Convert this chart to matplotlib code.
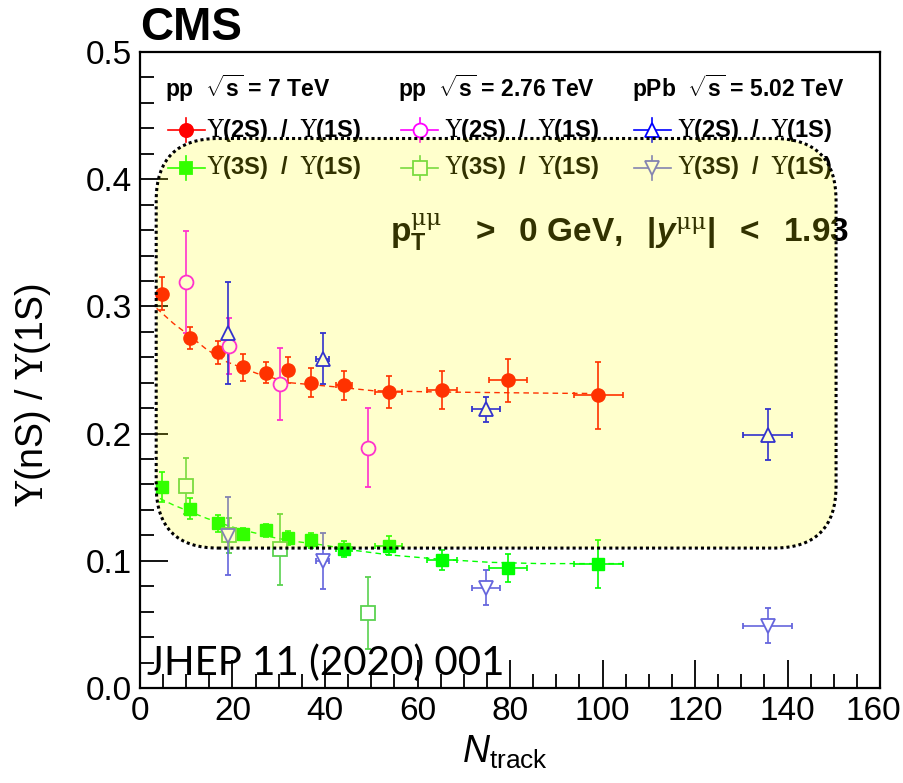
import matplotlib
matplotlib.use('Agg')
import matplotlib.pyplot as plt
from matplotlib.patches import FancyBboxPatch
from matplotlib.ticker import MultipleLocator
from matplotlib.transforms import ScaledTranslation

plt.rcParams['font.family'] = ['Liberation Sans', 'DejaVu Sans']
plt.rcParams['mathtext.fontset'] = 'custom'
plt.rcParams['mathtext.rm'] = 'DejaVu Serif'
plt.rcParams['mathtext.bf'] = 'Liberation Sans:bold'
plt.rcParams['mathtext.it'] = 'Liberation Sans:italic'
plt.rcParams['mathtext.sf'] = 'Liberation Sans'
plt.rcParams['mathtext.bfit'] = 'Liberation Sans:bold:italic'

# pp 7 TeV, filled markers
trk_x = [4.7, 10.8, 16.9, 22.3, 27.2, 32.1, 37.0, 44.1, 53.8, 65.3, 79.6, 99.1]
trk_xerr = [0.8, 0.8, 0.8, 0.8, 0.8, 0.8, 1.2, 1.8, 2.9, 3.3, 4.1, 5.3]
pp7_2s = [0.310, 0.275, 0.264, 0.252, 0.248, 0.250, 0.240, 0.238, 0.233, 0.234, 0.242, 0.230]
pp7_2s_err = [0.013, 0.0085, 0.009, 0.0105, 0.0085, 0.010, 0.0115, 0.0115, 0.0125, 0.015, 0.017, 0.026]
pp7_3s = [0.158, 0.141, 0.1295, 0.121, 0.124, 0.118, 0.116, 0.109, 0.112, 0.1006, 0.094, 0.0977]
pp7_3s_err = [0.0115, 0.008, 0.0065, 0.005, 0.005, 0.0054, 0.006, 0.0064, 0.0073, 0.0077, 0.011, 0.019]

# fitted curves
fit2_x = [3.6, 7.2, 10.8, 14.4, 18.7, 25.2, 32.4, 41.8, 50.4, 64.9, 90.8, 100]
fit2_y = [0.2985, 0.2867, 0.2767, 0.2662, 0.2565, 0.2474, 0.2400, 0.2369, 0.2337, 0.2327, 0.2317, 0.2315]
fit3_x = [4.3, 7.2, 10.8, 14.4, 18.0, 21.6, 25.2, 28.8, 32.4, 39.6, 46.8, 54.0, 64.9, 75.7, 86.5, 104.5]
fit3_y = [0.149, 0.1439, 0.1386, 0.1334, 0.1289, 0.1247, 0.1216, 0.1184, 0.1158, 0.1124, 0.1080,
          0.1046, 0.1012, 0.0988, 0.0978, 0.0978]

# pp 2.76 TeV
pp2_x = [9.9, 19.3, 30.3, 49.2]
pp2_2s = [0.319, 0.269, 0.239, 0.189]
pp2_2s_err = [0.040, 0.022, 0.0285, 0.031]
pp2_3s = [0.159, 0.120, 0.109, 0.059]
pp2_3s_err = [0.022, 0.014, 0.028, 0.028]

# pPb 5.02 TeV
ppb_x = [19.0, 39.5, 74.8, 135.7]
ppb_xerr = [0.5, 1.4, 3.0, 5.3]
ppb_2s = [0.279, 0.259, 0.219, 0.199]
ppb_2s_err = [0.040, 0.020, 0.010, 0.020]
ppb_3s = [0.1195, 0.100, 0.079, 0.049]
ppb_3s_err = [0.031, 0.022, 0.0138, 0.014]

x_ticks = [0, 20, 40, 60, 80, 100, 120, 140, 160]
headers = [r'pp  $\sqrt{\mathbf{s}}$ = 7 TeV', r'pp  $\sqrt{\mathbf{s}}$ = 2.76 TeV',
           r'pPb  $\sqrt{\mathbf{s}}$ = 5.02 TeV']
label_2s = r'$\Upsilon\mathbf{(2S)\ \ /\ \ }\Upsilon\mathbf{(1S)}$'
label_3s = r'$\Upsilon\mathbf{(3S)\ \ /\ \ }\Upsilon\mathbf{(1S)}$'
kin_text = (r'$\mathbf{p}_{\mathbf{T}}^{\mathrm{\mu\mu}}\mathbf{\ \ \ >\ \ 0\ GeV,\ \ |}'
            r'\mathbfit{y}^{\mathrm{\mu\mu}}\mathbf{|\ \ <\ \ 1.93}$')

fig = plt.figure(figsize=(9.04, 7.83), dpi=100)
ax = fig.add_axes([140 / 904, 95 / 783, 740 / 904, 636 / 783])
ax.set_xlim(0, 160)
ax.set_ylim(0, 0.5)

eb = dict(capsize=2.5, elinewidth=1.2, capthick=1.2, linestyle='none', zorder=5)

ax.plot(fit2_x, fit2_y, color='#ff0000', lw=1, ls=(0, (4, 3)), zorder=4)
ax.plot(fit3_x, fit3_y, color='#00ff00', lw=1, ls=(0, (4, 3)), zorder=4)

ax.errorbar(trk_x, pp7_2s, yerr=pp7_2s_err, xerr=trk_xerr, fmt='o', ms=9.5,
            color='#ff0000', **eb)
ax.errorbar(trk_x, pp7_3s, yerr=pp7_3s_err, xerr=trk_xerr, fmt='s', ms=8.5,
            color='#00ff00', **eb)
ax.errorbar(pp2_x, pp2_2s, yerr=pp2_2s_err, fmt='o', ms=10, mfc='white', mew=1.3,
            color='#ff00ff', **eb)
ax.errorbar(pp2_x, pp2_3s, yerr=pp2_3s_err, fmt='s', ms=9.5, mfc='white', mew=1.3,
            color='#5ad250', **eb)
ax.errorbar(ppb_x, ppb_2s, yerr=ppb_2s_err, xerr=ppb_xerr, fmt='^', ms=10.5, mfc='white',
            mew=1.3, color='#0000ff', **eb)
ax.errorbar(ppb_x, ppb_3s, yerr=ppb_3s_err, xerr=ppb_xerr, fmt='v', ms=10.5, mfc='white',
            mew=1.3, color='#6666dd', **eb)

# legend, drawn by hand in axes fraction
col_marker = [0.0622, 0.378, 0.692]
col_text = [0.0905, 0.412, 0.727]
col_head = [0.034, 0.349, 0.665]
row_y = [0.877, 0.818]
styles = [
    [('o', '#ff0000', '#ff0000', 9.5), ('s', '#00ff00', '#00ff00', 8.5)],
    [('o', '#ff00ff', 'white', 10), ('s', '#5ad250', 'white', 9.5)],
    [('^', '#0000ff', 'white', 10.5), ('v', '#6666dd', 'white', 10.5)],
]
dx, dy = 0.025, 0.019
for c in range(3):
    ax.text(col_head[c], 0.943, headers[c], transform=ax.transAxes, fontsize=16.5,
            fontweight='bold', va='center', ha='left', zorder=6)
    for r, lab in enumerate([label_2s, label_3s]):
        m, col, fc, ms = styles[c][r]
        xm, ym = col_marker[c], row_y[r]
        ax.plot([xm - dx, xm + dx], [ym, ym], color=col, lw=1.2, transform=ax.transAxes, zorder=5)
        ax.plot([xm, xm], [ym - dy, ym + dy], color=col, lw=1.2, transform=ax.transAxes, zorder=5)
        ax.plot([xm], [ym], marker=m, ms=ms, color=col, mfc=fc, mew=1.3,
                transform=ax.transAxes, zorder=6)
        ax.text(col_text[c], ym, lab, transform=ax.transAxes, fontsize=17,
                va='center', ha='left', zorder=6)

ax.text(0.338, 0.717, kin_text, transform=ax.transAxes, fontsize=24,
        va='center', ha='left', zorder=6)

# rounded yellow pave on top (semi-transparent) with dotted border
asp = 4.625 / 1272
box_kw = dict(boxstyle='round,pad=0,rounding_size=13.4', mutation_aspect=asp)
ax.add_patch(FancyBboxPatch((3.5, 0.110), 147.0, 0.322, facecolor='#ffff00', alpha=0.2,
                            edgecolor='none', zorder=10, **box_kw))
ax.add_patch(FancyBboxPatch((3.5, 0.110), 147.0, 0.322, facecolor='none', edgecolor='black',
                            lw=2.2, ls=(0, (1, 1)), zorder=11, **box_kw))

ax.text(0.01, 0.01, 'JHEP 11 (2020) 001', transform=ax.transAxes, fontsize=29,
        family='Lato', color='black', va='bottom', ha='left', zorder=6)

ax.set_xticks(x_ticks)
ax.xaxis.set_minor_locator(MultipleLocator(5))
ax.yaxis.set_major_locator(MultipleLocator(0.1))
ax.yaxis.set_minor_locator(MultipleLocator(0.02))
ax.yaxis.set_major_formatter(plt.FormatStrFormatter('%.1f'))
ax.tick_params(which='both', direction='in', top=False, right=False, width=1.3)
ax.tick_params(which='major', length=20, labelsize=24, pad=6)
ax.tick_params(which='minor', length=10)
for s in ax.spines.values():
    s.set_linewidth(1.6)

# keep the last x label inside the canvas
last = ax.xaxis.get_major_ticks()[-1].label1
last.set_transform(last.get_transform() + ScaledTranslation(-5 / 72, 0, fig.dpi_scale_trans))

fig.text(33 / 904, 1 - 395 / 783, r'$\Upsilon$(nS) / $\Upsilon$(1S)', rotation=90,
         fontsize=27, ha='center', va='center')
fig.text(505 / 904, 1 - 752 / 783, r'$N_{\mathsf{track}}$', fontsize=27, ha='center', va='center')
fig.text(140 / 904, 1 - 40 / 783, 'CMS', fontsize=33, fontweight='bold', ha='left', va='baseline')

fig.savefig('out.png', dpi=100)
